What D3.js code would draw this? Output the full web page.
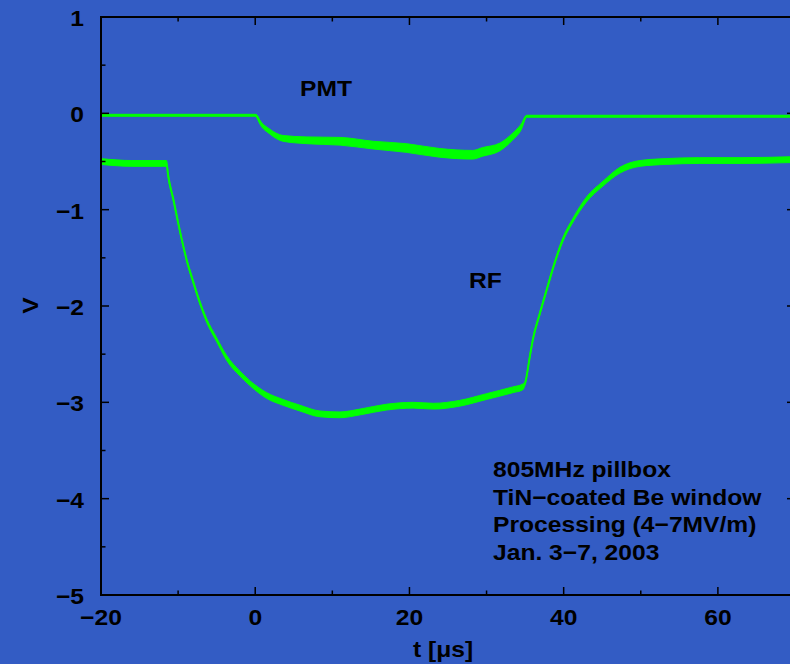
<!DOCTYPE html>
<html lang="en">
<head>
    <title>PMT / RF traces</title>
    <meta charset="utf-8">
    <script src="https://d3js.org/d3.v7.min.js"></script>
    <style>
        body { margin: 0; background: #335cc4; }
        text { font-family: "Liberation Sans", Arial, sans-serif; font-weight: bold; fill: #000; }
    </style>
</head>
<body>
<div id="visualization"></div>
<script>
    // RF trace (t in us, V)
    const rfT = [-20, -16, -12, -11.5, -11.3, -10.6, -9.8, -8.9, -8.0, -7.2, -6.3, -5.0, -3.7, -2.0, -0.7,
        1.5, 3.6, 5.8, 8.4, 11.0, 13.6, 17.0, 20.5, 23.1, 26.5, 30.0, 33.4, 34.7, 35.0, 35.6, 36.0, 36.9,
        37.8, 38.8, 39.9, 41.2, 42.9, 45.1, 47.3, 49.9, 53.3, 57.6, 63, 70];
    const rfV = [-0.50, -0.52, -0.52, -0.52, -0.64, -0.90, -1.21, -1.52, -1.76, -1.96, -2.15, -2.35, -2.54, -2.70, -2.80,
        -2.93, -3.00, -3.06, -3.12, -3.13, -3.10, -3.05, -3.03, -3.04, -3.01, -2.94, -2.87, -2.84, -2.80, -2.53, -2.35, -2.08,
        -1.83, -1.56, -1.31, -1.11, -0.90, -0.73, -0.59, -0.52, -0.50, -0.49, -0.49, -0.48];
    // half-width of the noise band (V)
    const rfNoise = [0.03, 0.03, 0.03, 0.03, 0.02, 0.015, 0.015, 0.015, 0.015, 0.015, 0.02, 0.02, 0.025, 0.025, 0.025,
        0.03, 0.03, 0.03, 0.03, 0.03, 0.03, 0.03, 0.03, 0.03, 0.03, 0.03, 0.03, 0.03, 0.015, 0.015, 0.015, 0.015,
        0.015, 0.015, 0.02, 0.02, 0.025, 0.025, 0.03, 0.03, 0.03, 0.03, 0.03, 0.03];

    // PMT trace
    const pmtT = [-20, -10, 0, 0.2, 0.6, 1.9, 3.6, 6.7, 11.0, 15.3, 19.6, 23.9, 28.2, 29.5, 31.7, 33.4, 34.5, 35.2,
        39.5, 50, 60, 70];
    const pmtV = [-0.02, -0.02, -0.02, -0.03, -0.09, -0.19, -0.26, -0.28, -0.29, -0.33, -0.36, -0.41, -0.43, -0.40,
        -0.35, -0.24, -0.14, -0.03, -0.03, -0.03, -0.03, -0.03];
    const pmtNoise = [0.01, 0.01, 0.01, 0.015, 0.02, 0.025, 0.03, 0.035, 0.04, 0.04, 0.045, 0.045, 0.045, 0.045,
        0.04, 0.035, 0.03, 0.01, 0.01, 0.01, 0.01, 0.01];

    const xMajor = [-20, 0, 20, 40, 60];
    const xMinor = [-10, 10, 30, 50];
    const yMajor = [1, 0, -1, -2, -3, -4, -5];
    const yMinor = [0.5, -0.5, -1.5, -2.5, -3.5, -4.5];

    const notes = ["805MHz pillbox", "TiN\u2212coated Be window", "Processing (4\u22127MV/m)", "Jan. 3\u22127, 2003"];

    const width = 790, height = 664;
    const plot = {left: 101, top: 17, right: 795, bottom: 595};
    const fontSize = 22, stretch = 1.12;

    const svg = d3.select("#visualization")
        .append("svg")
        .attr("width", width)
        .attr("height", height);

    svg.append("rect")
        .attr("width", width)
        .attr("height", height)
        .attr("fill", "#335cc4");

    const x = d3.scaleLinear().domain([-20, 70]).range([plot.left, plot.right]);
    const y = d3.scaleLinear().domain([-5, 1]).range([plot.bottom, plot.top]);

    const fmt = d => d < 0 ? "\u2212" + Math.abs(d) : String(d);

    // bold text, slightly wider than the font, like the original
    const label = (tx, ty, str, anchor = "start", rot = 0) =>
        svg.append("text")
            .attr("transform", `translate(${tx}, ${ty}) rotate(${rot}) scale(${stretch}, 1)`)
            .attr("text-anchor", anchor)
            .attr("font-size", fontSize)
            .text(str);

    // traces
    const traces = [
        d3.zip(rfT, rfV, rfNoise),
        d3.zip(pmtT, pmtV, pmtNoise)
    ];

    const band = d3.area()
        .x(d => x(d[0]))
        .y0(d => y(d[1] - d[2]))
        .y1(d => y(d[1] + d[2]))
        .curve(d3.curveMonotoneX);

    const line = d3.line()
        .x(d => x(d[0]))
        .y(d => y(d[1]))
        .curve(d3.curveMonotoneX);

    const g = svg.append("g");
    traces.forEach(tr => {
        g.append("path")
            .attr("d", band(tr))
            .attr("fill", "#00ff00")
            .attr("stroke", "#00ff00")
            .attr("stroke-width", 1);
        g.append("path")
            .attr("d", line(tr))
            .attr("fill", "none")
            .attr("stroke", "#00ff00")
            .attr("stroke-width", 2);
    });

    // frame
    svg.append("rect")
        .attr("x", plot.left)
        .attr("y", plot.top)
        .attr("width", plot.right - plot.left)
        .attr("height", plot.bottom - plot.top)
        .attr("fill", "none")
        .attr("stroke", "#000")
        .attr("stroke-width", 2);

    // inward ticks on all four sides
    const tickG = svg.append("g").attr("stroke", "#000").attr("stroke-width", 1.5);
    const xt = xMajor.map(v => [v, 8]).concat(xMinor.map(v => [v, 4.5]));
    xt.forEach(([v, len]) => {
        tickG.append("line").attr("x1", x(v)).attr("x2", x(v))
            .attr("y1", plot.bottom).attr("y2", plot.bottom - len);
        tickG.append("line").attr("x1", x(v)).attr("x2", x(v))
            .attr("y1", plot.top).attr("y2", plot.top + len);
    });
    const yt = yMajor.map(v => [v, 8]).concat(yMinor.map(v => [v, 4.5]));
    yt.forEach(([v, len]) => {
        tickG.append("line").attr("y1", y(v)).attr("y2", y(v))
            .attr("x1", plot.left).attr("x2", plot.left + len);
        tickG.append("line").attr("y1", y(v)).attr("y2", y(v))
            .attr("x1", plot.right).attr("x2", plot.right - len);
    });

    // tick labels
    xMajor.forEach(v => label(x(v), 625, fmt(v), "middle"));
    yMajor.forEach(v => label(84, y(v) + 9, fmt(v), "end"));

    // axis titles
    label(443, 657, "t [\u03bcs]", "middle");
    label(38, 305.5, "V", "middle", -90);

    // trace labels
    label(300, 96, "PMT");
    label(469, 288, "RF");

    // annotation
    notes.forEach((d, i) => label(493, 477 + i * 27.7, d));
</script>
</body>
</html>
